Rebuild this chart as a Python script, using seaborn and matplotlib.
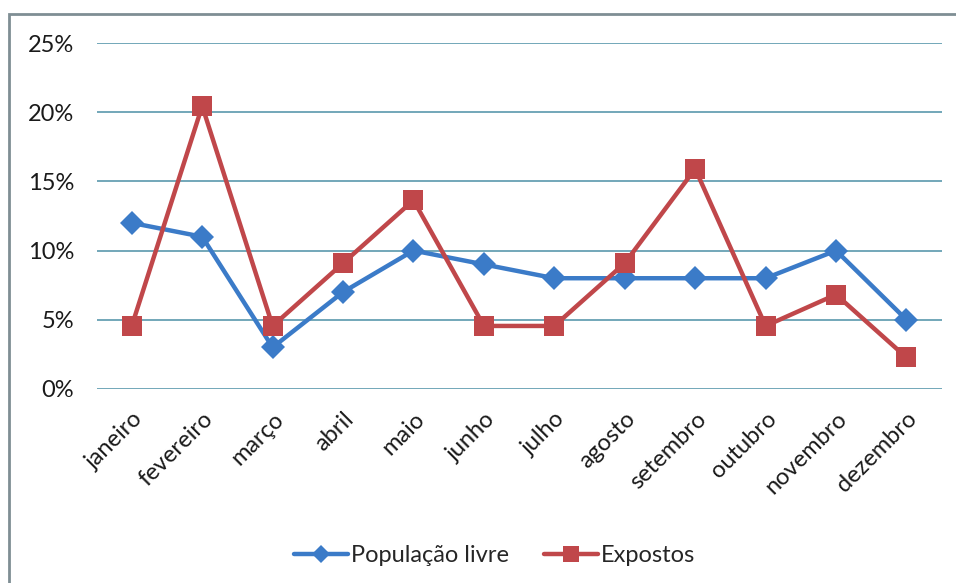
from matplotlib import pyplot as plt
from matplotlib.patches import Rectangle
from matplotlib.ticker import PercentFormatter
import numpy as np
import seaborn as sns
import pandas as pd

meses = ["janeiro", "fevereiro", "março", "abril", "maio", "junho",
         "julho", "agosto", "setembro", "outubro", "novembro", "dezembro"]
populacao_livre = [12, 11, 3, 7, 10, 9, 8, 8, 8, 8, 10, 5]
expostos = [4.55, 20.45, 4.55, 9.09, 13.64, 4.55, 4.55, 9.09, 15.91, 4.55, 6.82, 2.27]

df = pd.DataFrame({
    "mes": meses * 2,
    "valor": np.array(populacao_livre + expostos) / 100,
    "serie": ["População livre"] * 12 + ["Expostos"] * 12,
})

sns.set_style("white")
plt.rcParams['font.family'] = ['Lato', 'DejaVu Sans']

fig = plt.figure(figsize=(9.56, 5.83), dpi=100)
ax = fig.add_axes([0.101, 0.333, 0.884, 0.593])

palette = {"População livre": "#3b7bc8", "Expostos": "#c0474a"}
markers = {"População livre": "D", "Expostos": "s"}
for serie, grp in df.groupby("serie", sort=False):
    sns.lineplot(data=grp, x="mes", y="valor", ax=ax, color=palette[serie],
                 marker=markers[serie], markersize=14 if serie == "Expostos" else 12,
                 markeredgewidth=0, linewidth=3.2, label=serie, sort=False)

ax.set_ylim(0, 0.25)
ax.set_xlim(-0.5, 11.5)
ax.set_yticks(np.arange(0, 0.26, 0.05))
ax.yaxis.set_major_formatter(PercentFormatter(1.0, decimals=0))
ax.grid(axis="y", color="#5a98ad", linewidth=1.2)
ax.set_axisbelow(True)
for s in ax.spines.values():
    s.set_visible(False)
ax.tick_params(axis="both", length=0, labelsize=17, colors="#1a1a1a")
ax.tick_params(axis="y", pad=16)
ax.set_xticks(range(12))
ax.set_xticklabels(meses, rotation=45, ha="right", rotation_mode="anchor")
ax.tick_params(axis="x", pad=14)
ax.set_xlabel("")
ax.set_ylabel("")

ax.legend(loc="upper center", bbox_to_anchor=(0.471, -0.39), ncol=2, frameon=False,
          fontsize=17, handlelength=2.3, handletextpad=0.1, columnspacing=1.5,
          markerscale=0.8)

fig.patches.append(Rectangle((9 / 956, -0.1), 1.2, 1 - 14 / 583 + 0.1,
                             transform=fig.transFigure, fill=False,
                             edgecolor="#7f8e94", linewidth=2))

fig.savefig("out.png", dpi=100)
